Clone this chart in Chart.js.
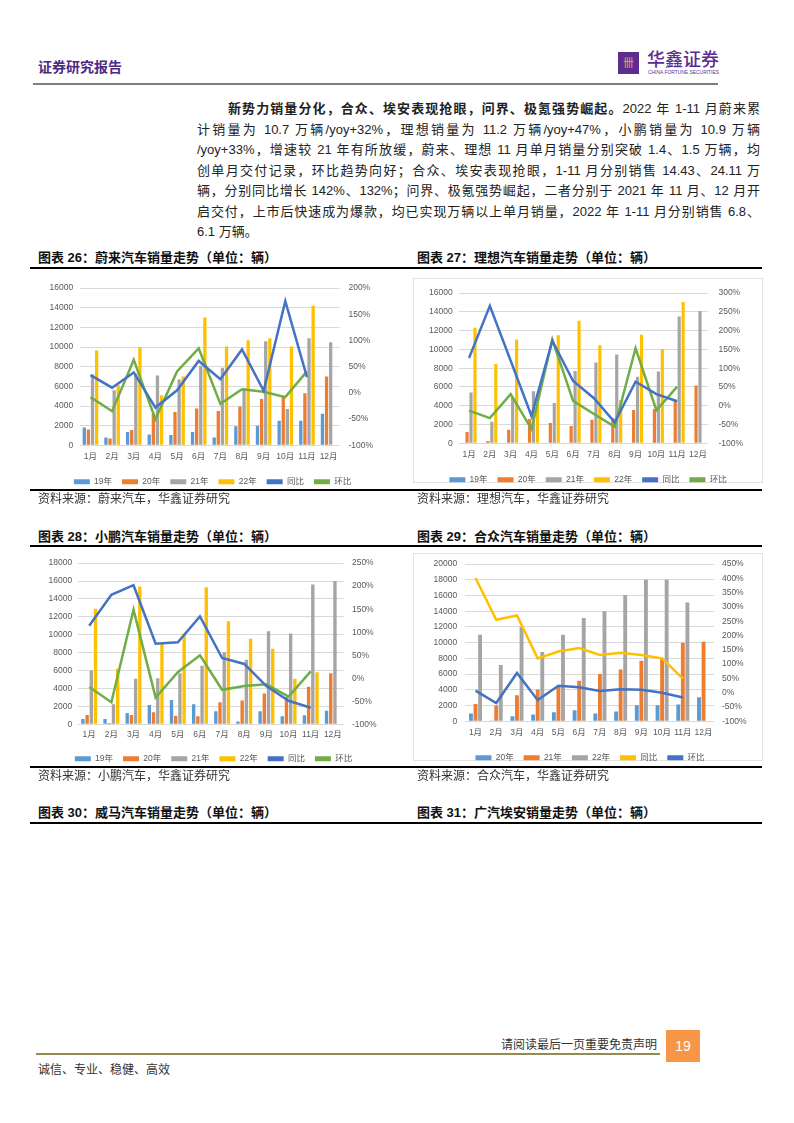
<!DOCTYPE html>
<html lang="zh-CN">
<head>
<meta charset="utf-8">
<script src="https://cdn.jsdelivr.net/npm/chart.js@4.4.1/dist/chart.umd.min.js"></script>
<style>
  body { margin: 0; background: #fff; }
  #page { position: relative; width: 794px; height: 1123px; overflow: hidden; background: #fff;
          font-family: "Liberation Sans", "Noto Sans CJK SC", sans-serif; color: #222; }
  .abs { position: absolute; }
  .rule { position: absolute; background: #000; }
  .title { position: absolute; font-size: 13px; font-weight: 700; line-height: 16px; white-space: nowrap; color: #111; }
  .src { position: absolute; font-size: 12px; line-height: 14px; white-space: nowrap; color: #333; }
  #para { position: absolute; left: 197px; top: 99px; width: 563px; font-size: 13px; line-height: 20.5px; color: #222; }
  #para div { text-align: justify; text-align-last: justify; white-space: nowrap; }
  #para div.last { text-align-last: left; }
  .frame { position: absolute; border: 1px solid #e3e3e3; box-sizing: border-box; }
  canvas { position: absolute; }
</style>
</head>
<body>
<div id="page">
  <div class="abs" style="left:38px;top:58px;font-size:14px;font-weight:700;line-height:18px;color:#4b2a83;">证券研究报告</div>
  <div class="abs" style="left:618px;top:52px;width:21px;height:22px;background:#5c2d8f;color:#f3a33a;font-size:11px;line-height:22px;text-align:center;">卌</div>
  <div class="abs" style="left:647px;top:49px;font-size:18px;line-height:22px;color:#5c2d8f;font-weight:500;">华鑫证券</div>
  <div class="abs" style="left:648px;top:69px;font-size:6px;line-height:7px;color:#5c2d8f;white-space:nowrap;transform:scale(0.82,0.9);transform-origin:left top;">CHINA FORTUNE SECURITIES</div>
  <div class="abs" style="left:33px;top:83px;width:685px;height:2px;background:#7f7f7f;"></div>

  <div id="para">
    <div style="padding-left:31px;"><b>新势力销量分化，合众、埃安表现抢眼，问界、极氪强势崛起。</b>2022 年 1-11 月蔚来累</div>
    <div>计销量为 10.7 万辆/yoy+32%，理想销量为 11.2 万辆/yoy+47%，小鹏销量为 10.9 万辆</div>
    <div>/yoy+33%，增速较 21 年有所放缓，蔚来、理想 11 月单月销量分别突破 1.4、1.5 万辆，均</div>
    <div>创单月交付记录，环比趋势向好；合众、埃安表现抢眼，1-11 月分别销售 14.43、24.11 万</div>
    <div>辆，分别同比增长 142%、132%；问界、极氪强势崛起，二者分别于 2021 年 11 月、12 月开</div>
    <div>启交付，上市后快速成为爆款，均已实现万辆以上单月销量，2022 年 1-11 月分别销售 6.8、</div>
    <div class="last">6.1 万辆。</div>
  </div>

  <div class="title" style="left:38px;top:250px;">图表 26：蔚来汽车销量走势（单位：辆）</div>
  <div class="title" style="left:417px;top:250px;">图表 27：理想汽车销量走势（单位：辆）</div>
  <div class="rule" style="left:30px;top:267px;width:732px;height:1.5px;"></div>

  <div class="frame" style="left:413px;top:278px;width:350px;height:205px;"></div>
  <canvas id="c1" width="352" height="222" style="left:30px;top:274px;"></canvas>
  <canvas id="c2" width="345" height="216" style="left:413px;top:278px;"></canvas>

  <div class="rule" style="left:30px;top:489px;width:732px;height:1.5px;"></div>
  <div class="src" style="left:38px;top:492px;">资料来源：蔚来汽车，华鑫证券研究</div>
  <div class="src" style="left:417px;top:492px;">资料来源：理想汽车，华鑫证券研究</div>

  <div class="title" style="left:38px;top:529px;">图表 28：小鹏汽车销量走势（单位：辆）</div>
  <div class="title" style="left:417px;top:529px;">图表 29：合众汽车销量走势（单位：辆）</div>
  <div class="rule" style="left:30px;top:545px;width:732px;height:1.5px;"></div>

  <div class="frame" style="left:413px;top:553px;width:350px;height:208px;"></div>
  <canvas id="c3" width="356" height="223" style="left:30px;top:550px;"></canvas>
  <canvas id="c4" width="345" height="222" style="left:413px;top:550px;"></canvas>

  <div class="rule" style="left:30px;top:766px;width:732px;height:1.5px;"></div>
  <div class="src" style="left:38px;top:769px;">资料来源：小鹏汽车，华鑫证券研究</div>
  <div class="src" style="left:417px;top:769px;">资料来源：合众汽车，华鑫证券研究</div>

  <div class="title" style="left:38px;top:805px;">图表 30：威马汽车销量走势（单位：辆）</div>
  <div class="title" style="left:417px;top:805px;">图表 31：广汽埃安销量走势（单位：辆）</div>
  <div class="rule" style="left:30px;top:822px;width:732px;height:1.5px;"></div>

  <div class="abs" style="right:137px;top:1038px;font-size:12px;line-height:14px;color:#333;white-space:nowrap;">请阅读最后一页重要免责声明</div>
  <div class="abs" style="left:36px;top:1053px;width:624px;height:2px;background:#948a54;"></div>
  <div class="abs" style="left:666px;top:1030px;width:34px;height:32px;background:#f79646;color:#fff;font-size:14px;line-height:32px;text-align:center;">19</div>
  <div class="abs" style="left:38px;top:1063px;font-size:12px;line-height:14px;color:#333;white-space:nowrap;">诚信、专业、稳健、高效</div>
</div>

<script>
const months = ['1月', '2月', '3月', '4月', '5月', '6月', '7月', '8月', '9月', '10月', '11月', '12月'];

// 蔚来
const nio19 = [1800, 800, 1350, 1100, 1050, 1350, 800, 1950, 2000, 2500, 2500, 3200];
const nio20 = [1600, 700, 1550, 3200, 3400, 3750, 3500, 3950, 4700, 5000, 5300, 7000];
const nio21 = [7200, 5600, 7300, 7100, 6700, 8100, 7900, 5800, 10600, 3700, 10900, 10500];
const nio22 = [9650, 6100, 10000, 5100, 7000, 13000, 10050, 10700, 10900, 10050, 14200, null];
const nioYoy = [34, 10, 39, -28, 5, 61, 26, 83, 4, 175, 30, null];
const nioMom = [-8, -35, 63, -50, 41, 85, -21, 7, 2, -8, 41, null];

// 理想
const li19 = [null, null, null, null, null, null, null, null, null, null, null, null];
const li20 = [1200, 250, 1450, 2600, 2150, 1850, 2500, 2700, 3550, 3650, 4600, 6150];
const li21 = [5400, 2300, 4900, 5550, 4300, 7700, 8600, 9450, 7100, 7650, 13500, 14100];
const li22 = [12300, 8450, 11050, 4150, 11500, 13050, 10450, 4600, 11550, 10050, 15050, null];
const liYoy = [127, 266, 120, -27, 173, 66, 20, -44, 64, 31, 12, null];
const liMom = [-13, -33, 31, -62, 176, 13, -22, -56, 153, -12, 51, null];

// 小鹏
const xp19 = [600, 600, 1250, 2150, 2700, 2250, 1450, 300, 1450, 900, 1000, 1500];
const xp20 = [1050, 150, 1050, 1350, 950, 900, 2450, 2650, 3450, 3050, 4200, 5700];
const xp21 = [6000, 2250, 5100, 5150, 5700, 6550, 8050, 7200, 10400, 10150, 15600, 16000];
const xp22 = [12900, 6200, 15400, 9000, 10100, 15300, 11500, 9550, 8450, 5100, 5800, null];
const xpYoy = [114, 181, 202, 75, 78, 134, 44, 31, -17, -49, -64, null];
const xpMom = [-19, -52, 149, -42, 13, 50, -25, -17, -13, -40, 15, null];

// 合众
const hz20 = [1000, 100, 650, 850, 1150, 1400, 1000, 1250, 2050, 2050, 2150, 3050];
const hz21 = [2200, 2000, 3300, 4050, 4450, 5150, 6000, 6600, 7700, 8050, 10000, 10100];
const hz22 = [11000, 7150, 12000, 8800, 11000, 13150, 14000, 16050, 18000, 18000, 15100, null];
const hzYoy = [401, 255, 270, 120, 144, 156, 132, 140, 132, 120, 49, null];
const hzMom = [7, -36, 69, -26, 24, 19, 6, 12, 10, 0, -17, null];

const tickFont = { family: '"Liberation Sans", "Noto Sans CJK SC", sans-serif', size: 8.5 };
const tickColor = '#595959';

function barSet(label, data, color) {
    return { type: 'bar', label: label, data: data, backgroundColor: color, borderWidth: 0, yAxisID: 'y', order: 2 };
}

function lineSet(label, data, color) {
    return {
        type: 'line', label: label, data: data, borderColor: color, backgroundColor: color,
        borderWidth: 2.5, pointRadius: 0, tension: 0, fill: false, yAxisID: 'y1', order: 1
    };
}

function drawChart(id, datasets, left, right, cfg) {
    return new Chart(document.getElementById(id), {
        type: 'bar',
        data: { labels: months, datasets: datasets },
        options: {
            responsive: false,
            maintainAspectRatio: false,
            animation: false,
            datasets: { bar: { categoryPercentage: cfg.cat, barPercentage: cfg.bar } },
            layout: { padding: cfg.pad },
            plugins: {
                tooltip: { enabled: false },
                legend: {
                    position: 'bottom',
                    labels: {
                        boxWidth: 16,
                        boxHeight: 5,
                        padding: 10,
                        color: tickColor,
                        font: tickFont,
                        sort: (a, b) => a.datasetIndex - b.datasetIndex,
                        generateLabels: function (chart) {
                            const items = Chart.defaults.plugins.legend.labels.generateLabels(chart);
                            items.forEach(function (it) { it.lineWidth = 0; });
                            return items;
                        }
                    }
                }
            },
            scales: {
                x: {
                    grid: { display: false, drawTicks: false },
                    border: { display: false },
                    ticks: { color: tickColor, font: tickFont, padding: cfg.xPad, autoSkip: false, maxRotation: 0 }
                },
                y: {
                    position: 'left',
                    min: 0,
                    max: left[0],
                    ticks: { stepSize: left[1], color: tickColor, font: tickFont, padding: cfg.yPad, callback: v => String(v) },
                    grid: { color: '#d9d9d9', drawTicks: false },
                    border: { display: false }
                },
                y1: {
                    position: 'right',
                    min: right[0],
                    max: right[1],
                    ticks: { stepSize: right[2], color: tickColor, font: tickFont, padding: cfg.y1Pad, callback: v => v + '%' },
                    grid: { display: false, drawTicks: false },
                    border: { display: false }
                }
            }
        }
    });
}

drawChart('c1', [
    barSet('19年', nio19, '#5b9bd5'),
    barSet('20年', nio20, '#ed7d31'),
    barSet('21年', nio21, '#a5a5a5'),
    barSet('22年', nio22, '#ffc000'),
    lineSet('同比', nioYoy, '#4472c4'),
    lineSet('环比', nioMom, '#70ad47')
], [16000, 2000], [-100, 200, 50], { cat: 0.76, bar: 0.8, xPad: 6, yPad: 6.5, y1Pad: 9, pad: { left: 13, right: 0, top: 12, bottom: 0 } });

drawChart('c2', [
    barSet('19年', li19, '#5b9bd5'),
    barSet('20年', li20, '#ed7d31'),
    barSet('21年', li21, '#a5a5a5'),
    barSet('22年', li22, '#ffc000'),
    lineSet('同比', liYoy, '#4472c4'),
    lineSet('环比', liMom, '#70ad47')
], [16000, 2000], [-100, 300, 50], { cat: 0.76, bar: 0.8, xPad: 6, yPad: 6, y1Pad: 10, pad: { left: 10, right: 5, top: 11, bottom: 0 } });

drawChart('c3', [
    barSet('19年', xp19, '#5b9bd5'),
    barSet('20年', xp20, '#ed7d31'),
    barSet('21年', xp21, '#a5a5a5'),
    barSet('22年', xp22, '#ffc000'),
    lineSet('同比', xpYoy, '#4472c4'),
    lineSet('环比', xpMom, '#70ad47')
], [18000, 2000], [-100, 250, 50], { cat: 0.76, bar: 0.8, xPad: 5, yPad: 6, y1Pad: 8, pad: { left: 12.5, right: 1.5, top: 13, bottom: 0 } });

drawChart('c4', [
    barSet('20年', hz20, '#5b9bd5'),
    barSet('21年', hz21, '#ed7d31'),
    barSet('22年', hz22, '#a5a5a5'),
    lineSet('同比', hzYoy, '#ffc000'),
    lineSet('环比', hzMom, '#4472c4')
], [20000, 2000], [-100, 450, 50], { cat: 0.66, bar: 0.85, xPad: 6, yPad: 8, y1Pad: 8, pad: { left: 12.5, right: 3.5, top: 14, bottom: 0 } });
</script>
</body>
</html>
